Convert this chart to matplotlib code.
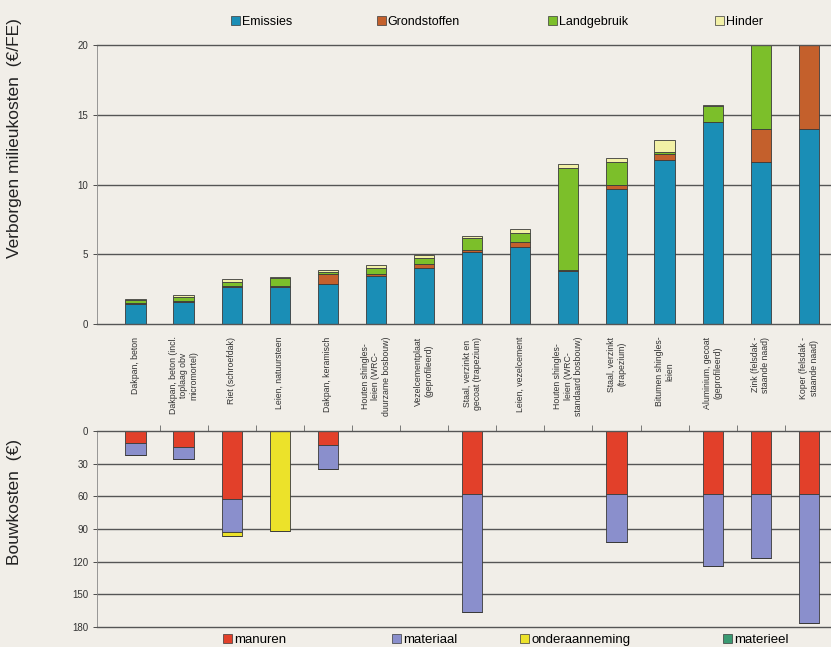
import numpy as np
import matplotlib.pyplot as plt
from matplotlib.patches import Patch

# ── Data ────────────────────────────────────────────────────────────────────
categories = [
    "Dakpan, beton",
    "Dakpan, beton (incl.\ntoplaag obv\nmicromortel)",
    "Riet (schroefdak)",
    "Leien, natuursteen",
    "Dakpan, keramisch",
    "Houten shingles-\nleien (WRC-\nduurzame bosbouw)",
    "Vezelcementplaat\n(geprofileerd)",
    "Staal, verzinkt en\ngecoat (trapezium)",
    "Leien, vezelcement",
    "Houten shingles-\nleien (WRC-\nstandaard bosbouw)",
    "Staal, verzinkt\n(trapezium)",
    "Bitumen shingles-\nleien",
    "Aluminium, gecoat\n(geprofileerd)",
    "Zink (felsdak -\nstaande naad)",
    "Koper (felsdak -\nstaande naad)",
]

# hidden environmental costs (EUR / FE)
emissies     = [1.45, 1.60, 2.65, 2.65, 2.85, 3.45, 4.00, 5.15, 5.55, 3.80, 9.65, 11.75, 14.45, 11.60, 14.00]
grondstoffen = [0.05, 0.05, 0.10, 0.05, 0.70, 0.10, 0.30, 0.15, 0.35, 0.05, 0.30, 0.45, 0.05, 2.40, 8.00]
landgebruik  = [0.20, 0.30, 0.25, 0.60, 0.20, 0.45, 0.45, 0.85, 0.65, 7.35, 1.65, 0.15, 1.10, 8.00, 0.00]
hinder       = [0.12, 0.12, 0.20, 0.10, 0.15, 0.20, 0.20, 0.15, 0.25, 0.30, 0.30, 0.85, 0.10, 0.00, 0.00]

# building costs (EUR)
manuren        = [11, 15, 62, 0, 13, 0, 0, 58, 0, 0, 58, 0, 58, 58, 58]
materiaal      = [11, 11, 31, 0, 22, 0, 0, 108, 0, 0, 44, 0, 66, 59, 118]
onderaanneming = [0, 0, 3, 92, 0, 0, 0, 0, 0, 0, 0, 0, 0, 0, 0]
materieel      = [0, 0, 0, 0, 0, 0, 0, 0, 0, 0, 0, 0, 0, 0, 0]

top_series = [("Emissies", emissies, "#1a8eb6"),
              ("Grondstoffen", grondstoffen, "#c4602c"),
              ("Landgebruik", landgebruik, "#7cbf2a"),
              ("Hinder", hinder, "#f2f0a6")]
bot_series = [("manuren", manuren, "#e2402a"),
              ("materiaal", materiaal, "#8a8fcc"),
              ("onderaanneming", onderaanneming, "#ece22a"),
              ("materieel", materieel, "#3b9a72")]

# ── Style ───────────────────────────────────────────────────────────────────
BG    = "#f1eee8"
GRID  = "#555555"
EDGE  = "#3a3a3a"
W     = 0.42
plt.rcParams["font.family"] = ["Liberation Sans", "DejaVu Sans"]

x = np.arange(len(categories))
fig = plt.figure(figsize=(8.31, 6.47), dpi=100, facecolor=BG)

# ── Top: hidden environmental costs ─────────────────────────────────────────
ax = fig.add_axes([0.1167, 0.4992, 1 - 0.1167, 0.4312], facecolor=BG)
bottom = np.zeros(len(x))
for name, vals, col in top_series:
    vals = np.array(vals)
    ax.bar(x, vals, W, bottom=bottom, color=col, edgecolor=EDGE, linewidth=0.6)
    bottom += vals
ax.set_xlim(-0.80, 14.46)
ax.set_ylim(0, 20)
ax.set_yticks([0, 5, 10, 15, 20])
for yv in [5, 10, 15]:
    ax.axhline(yv, color=GRID, lw=1.0, zorder=0)
ax.spines["right"].set_visible(False)
for s in ["top", "bottom"]:
    ax.spines[s].set_color(GRID)
    ax.spines[s].set_linewidth(1.0)
ax.spines["left"].set_color("#888888")
ax.spines["left"].set_linewidth(0.6)
ax.tick_params(axis="y", labelsize=7, colors="#333333", length=3, width=0.6)
ax.set_xticks(x)
ax.set_xticklabels(categories, rotation=90, fontsize=6.3, color="#333333",
                   multialignment="center")
ax.tick_params(axis="x", length=0, pad=9)

# ── Bottom: building costs ──────────────────────────────────────────────────
ax2 = fig.add_axes([0.1167, 0.0309, 1 - 0.1167, 0.3029], facecolor=BG)
bottom = np.zeros(len(x))
for name, vals, col in bot_series:
    vals = np.array(vals, dtype=float)
    ax2.bar(x, vals, W, bottom=bottom, color=col, edgecolor=EDGE, linewidth=0.6)
    bottom += vals
ax2.set_xlim(-0.80, 14.46)
ax2.set_ylim(180, 0)
ax2.set_yticks(np.arange(0, 181, 30))
for yv in [30, 60, 90, 120, 150]:
    ax2.axhline(yv, color=GRID, lw=1.0, zorder=0)
ax2.spines["right"].set_visible(False)
for s in ["top", "bottom"]:
    ax2.spines[s].set_color(GRID)
    ax2.spines[s].set_linewidth(1.0)
ax2.spines["left"].set_color("#888888")
ax2.spines["left"].set_linewidth(0.6)
ax2.tick_params(axis="y", labelsize=7, colors="#333333", length=3, width=0.6)
ax2.xaxis.tick_top()
ax2.set_xticks(x[:-1] + 0.5)
ax2.set_xticklabels([])
ax2.tick_params(axis="x", direction="out", length=4, width=0.6, colors="#666666")

# ── Axis titles ─────────────────────────────────────────────────────────────
fig.text(0.018, 1 - 138 / 647, "Verborgen milieukosten  (\u20ac/FE)", rotation=90,
         ha="center", va="center", fontsize=12.5, color="#222222")
fig.text(0.018, 1 - 502 / 647, "Bouwkosten  (\u20ac)", rotation=90,
         ha="center", va="center", fontsize=12.5, color="#222222")

# ── Legends (one entry each, placed individually) ───────────────────────────
top_pos = [231, 377, 548, 715]
for (name, vals, col), px in zip(top_series, top_pos):
    fig.legend([Patch(facecolor=col, edgecolor=EDGE, linewidth=0.5)], [name],
               loc="center left", bbox_to_anchor=(px / 831, 1 - 22 / 647),
               frameon=False, fontsize=9, handlelength=0.7, handleheight=0.7,
               handletextpad=0.15, borderpad=0, borderaxespad=0)

bot_pos = [223, 392, 520, 723]
for (name, vals, col), px in zip(bot_series, bot_pos):
    fig.legend([Patch(facecolor=col, edgecolor=EDGE, linewidth=0.5)], [name],
               loc="center left", bbox_to_anchor=(px / 831, 1 - 640 / 647),
               frameon=False, fontsize=9.5, handlelength=0.7, handleheight=0.7,
               handletextpad=0.15, borderpad=0, borderaxespad=0)

fig.savefig("out.png", dpi=100, facecolor=BG)
